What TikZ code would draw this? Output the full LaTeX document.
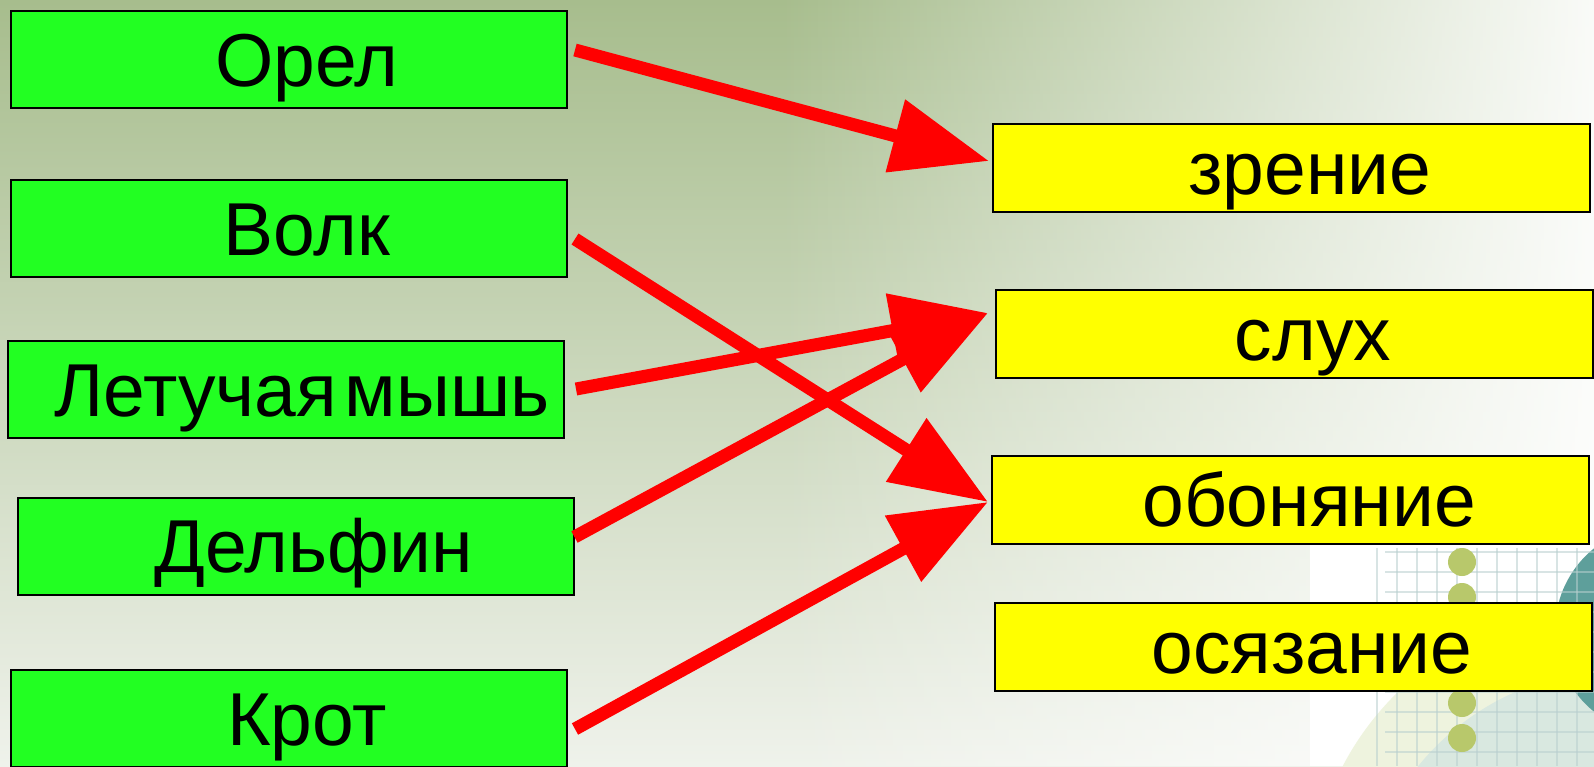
\documentclass[tikz,border=0pt]{standalone}
\usepackage{fontspec}
\setmainfont{Liberation Sans}
\usetikzlibrary{arrows.meta,calc,fadings}
\definecolor{bgtop}{HTML}{A7BD8D}
\definecolor{bgbot}{HTML}{EFF2EB}
\definecolor{boxgreen}{HTML}{22FF22}
\definecolor{boxyellow}{HTML}{FFFF00}
\definecolor{arrred}{HTML}{FF0000}
\definecolor{paleA}{HTML}{EEF3DE}
\definecolor{paleB}{HTML}{D9E8E0}
\definecolor{tealC}{HTML}{5E9F9B}
\definecolor{gridC}{HTML}{B9CFCF}
\definecolor{dotC}{HTML}{B8C86B}
\tikzfading[name=fadeR, left color=transparent!100, right color=transparent!6]
\begin{document}
\begin{tikzpicture}[x=0.5pt,y=-0.5pt,
 lbl/.style={draw=black, line width=1pt, inner sep=0pt, text height=26.85pt, text depth=0pt,
   font=\fontsize{37.5pt}{45pt}\selectfont, anchor=center},
 gbox/.style={lbl, fill=boxgreen, minimum width=278pt, minimum height=48.5pt},
 ybox/.style={lbl, fill=boxyellow, minimum width=298.5pt, minimum height=44pt},
 arr/.style={draw=arrred, line width=6.5pt, -{Triangle[length=48.5pt 0 0, width=36pt 0 0]}}]
\useasboundingbox (0,0) rectangle (1594,766);
\clip (0,0) rectangle (1594,766);
% background
\shade[top color=bgtop, bottom color=bgbot] (0,0) rectangle (1594,766);
\fill[white, path fading=fadeR] (780,0) rectangle (1594,766);
% bottom-right decoration
\fill[white] (1310,545) rectangle (1594,766);
\begin{scope}
\clip (1310,545) rectangle (1594,766);
\fill[paleA] (1600,900) circle[radius=290];
\fill[paleB] (1620,930) circle[radius=260];
\fill[tealC] (1660,630) circle[radius=105];
\foreach \gx in {1377,1397,...,1577} \draw[gridC, line width=0.7pt, opacity=0.55] (\gx,548) -- (\gx,766);
\foreach \gy in {552,572,...,752} \draw[gridC, line width=0.7pt, opacity=0.55] (1385,\gy) -- (1594,\gy);
\foreach \dy in {562,597,632,668,703,738} \fill[dotC] (1462,\dy) circle[radius=14];
\end{scope}
% boxes
\node[gbox] (orel) at (289,59.5) {\hspace*{18pt}Орел};
\node[gbox] (volk) at (289,228.5) {\hspace*{18pt}Волк};
\node[gbox] (mysh) at (286,389.5) {\hspace*{16pt}Летучая\hspace{0.1em}мышь};
\node[gbox] (delf) at (295.5,546) {\hspace*{18pt}Дельфин};
\node[gbox] (krot) at (289,718.5) {\hspace*{18pt}Крот};
\node[ybox] (zr) at (1291,168) {\hspace*{19pt}зрение};
\node[ybox] (sl) at (1294,334) {\hspace*{19pt}слух};
\node[ybox] (ob) at (1290,500) {\hspace*{19pt}обоняние};
\node[ybox] (os) at (1293,647) {\hspace*{19pt}осязание};
% arrows
\draw[arr] ($(orel.east)+(7,-9.5)$) -- ($(zr.west)+(-2.5,-7)$);
\draw[arr] ($(volk.east)+(7,10.5)$) -- ($(ob.west)+(-2.5,2)$);
\draw[arr] ($(mysh.east)+(11,-0.5)$) -- ($(sl.west)+(-6.5,-21)$);
\draw[arr] ($(delf.east)+(0,-9)$) -- ($(sl.west)+(-6.5,-21)$);
\draw[arr] ($(krot.east)+(7,10.5)$) -- ($(ob.west)+(-2.5,2)$);
\end{tikzpicture}
\end{document}
